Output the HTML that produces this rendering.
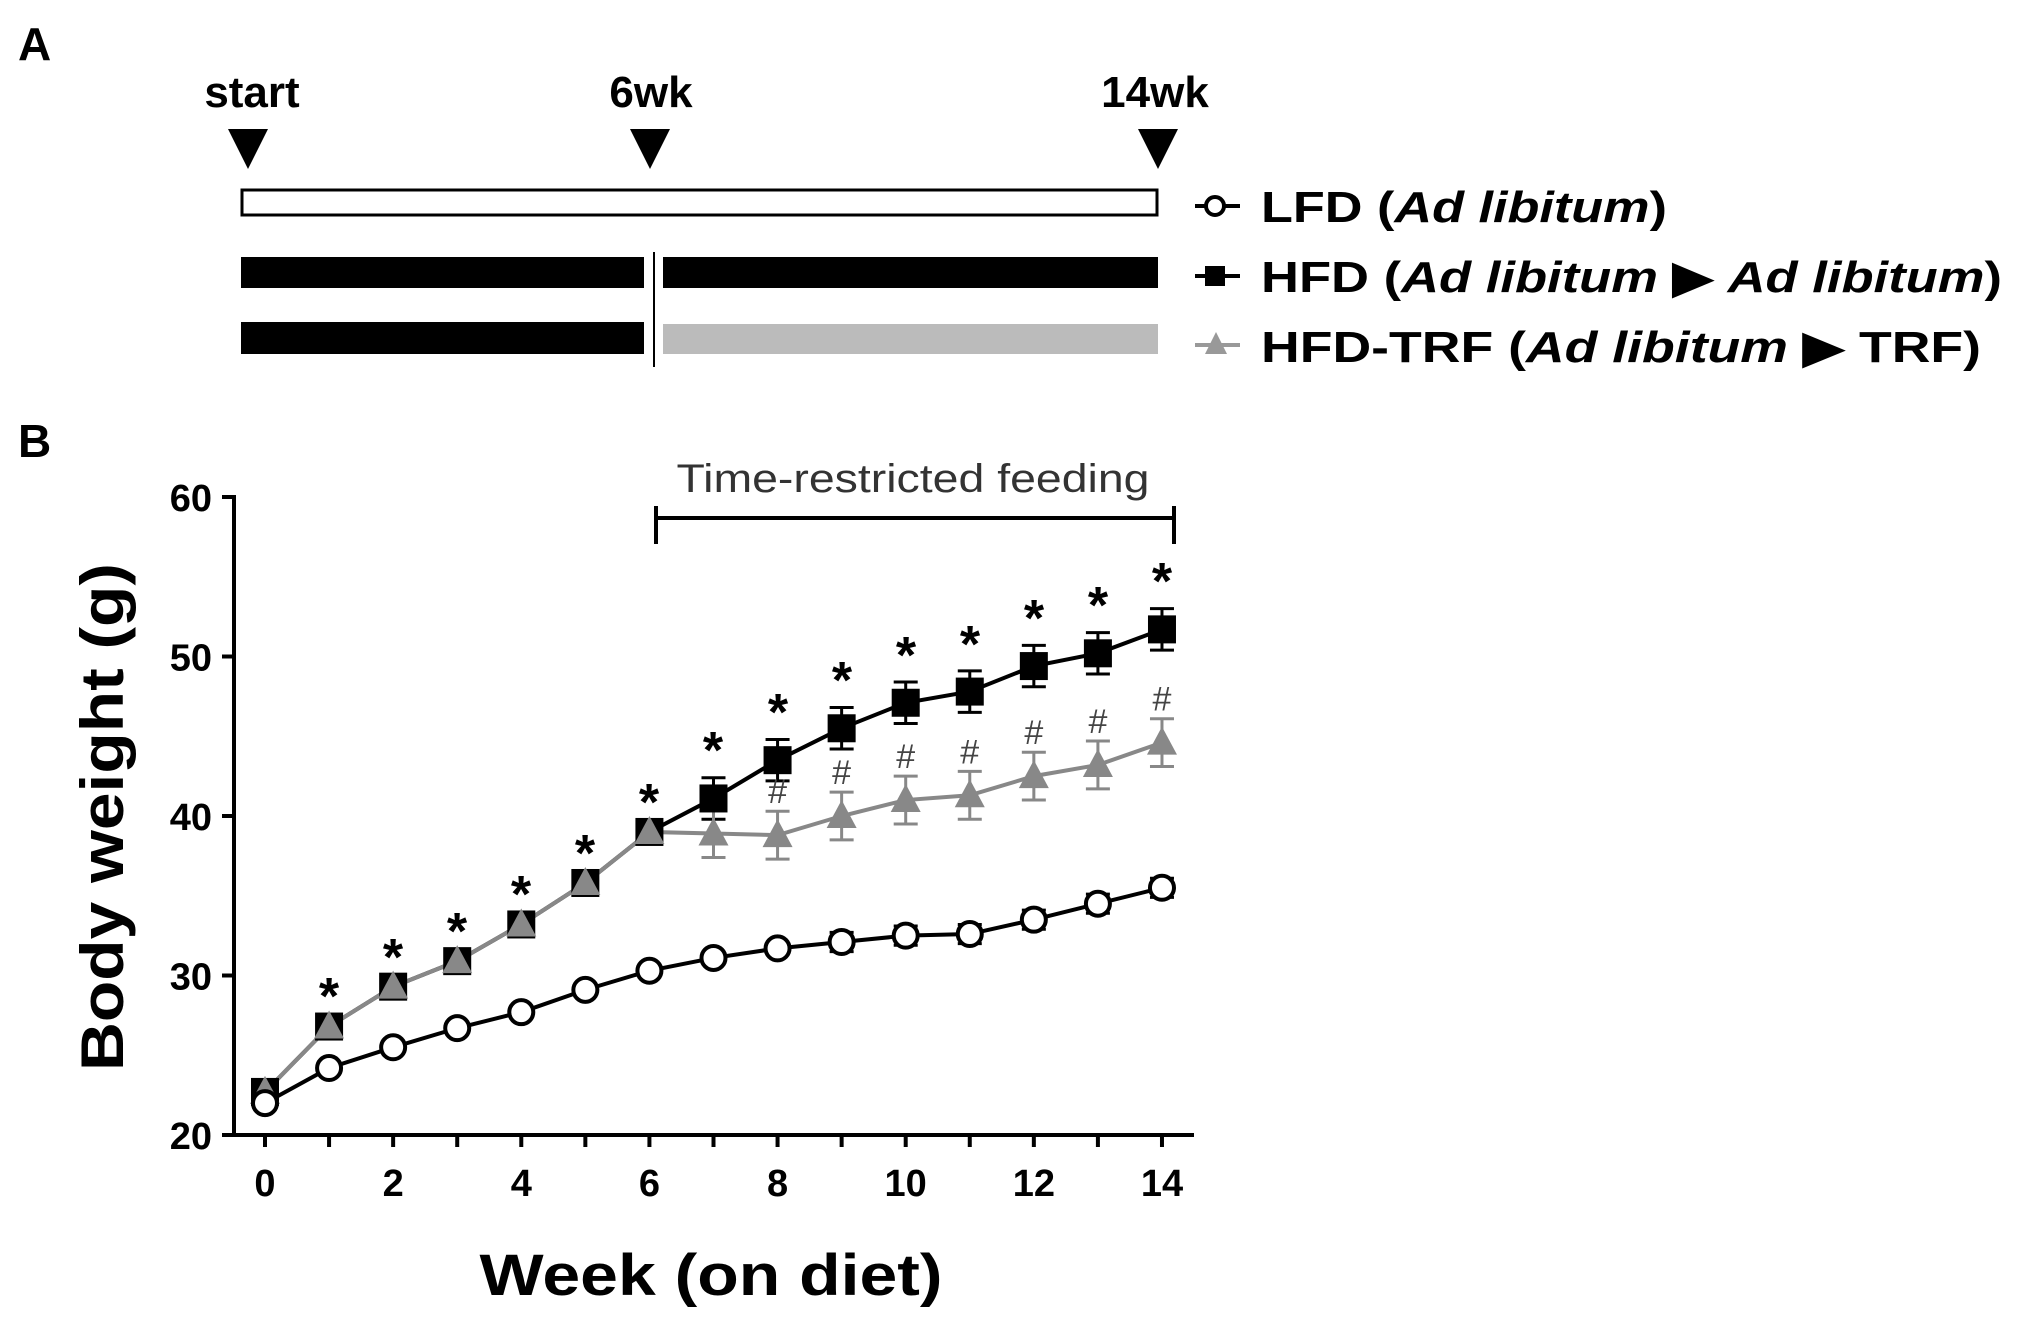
<!DOCTYPE html>
<html><head><meta charset="utf-8"><style>
html,body{margin:0;padding:0;background:#fff;}
svg{display:block;font-family:"Liberation Sans",sans-serif;}
</style></head><body>
<svg id="s" width="2017" height="1326" viewBox="0 0 2017 1326" xmlns="http://www.w3.org/2000/svg">
<rect width="2017" height="1326" fill="#fff"/>
<text x="18" y="60" font-size="46" font-weight="bold">A</text>
<g font-size="44" font-weight="bold" text-anchor="middle">
<text x="252" y="107">start</text><text x="651" y="107">6wk</text><text x="1155" y="107">14wk</text>
</g>
<polygon points="228,129 268,129 248,169" fill="#000"/>
<polygon points="630,129 670,129 650,169" fill="#000"/>
<polygon points="1138,129 1178,129 1158,169" fill="#000"/>
<rect x="242" y="190" width="915" height="25" fill="#fff" stroke="#000" stroke-width="3"/>
<rect x="241" y="257" width="403" height="31" fill="#000"/>
<rect x="663" y="257" width="495" height="31" fill="#000"/>
<rect x="241" y="322" width="403" height="32" fill="#000"/>
<rect x="663" y="324" width="495" height="30" fill="#bbb"/>
<line x1="654" y1="252" x2="654" y2="367" stroke="#000" stroke-width="2"/>
<line x1="1195" y1="206" x2="1240" y2="206" stroke="#000" stroke-width="4"/>
<circle cx="1215" cy="206" r="9" fill="#fff" stroke="#000" stroke-width="4"/>
<line x1="1195" y1="276" x2="1240" y2="276" stroke="#000" stroke-width="4"/>
<rect x="1205" y="266" width="20" height="20" fill="#000"/>
<line x1="1195" y1="345" x2="1240" y2="345" stroke="#999" stroke-width="4"/>
<polygon points="1216,332 1227,354 1205,354" fill="#999"/>
<g font-size="44" font-weight="bold">
<text x="1261" y="222" textLength="406" lengthAdjust="spacingAndGlyphs">LFD (<tspan font-style="italic">Ad libitum</tspan>)</text>
<text x="1261" y="292" textLength="741" lengthAdjust="spacingAndGlyphs">HFD (<tspan font-style="italic">Ad libitum</tspan> ▶ <tspan font-style="italic">Ad libitum</tspan>)</text>
<text x="1261" y="362" textLength="720" lengthAdjust="spacingAndGlyphs">HFD-TRF (<tspan font-style="italic">Ad libitum</tspan> ▶ TRF)</text>
</g>
<text x="18" y="457" font-size="46" font-weight="bold">B</text>
<text x="913" y="492" font-size="40" fill="#333" text-anchor="middle" textLength="473" lengthAdjust="spacingAndGlyphs">Time-restricted feeding</text>
<g stroke="#000" stroke-width="4" fill="none">
<line x1="656" y1="518" x2="1174" y2="518"/><line x1="656" y1="506" x2="656" y2="544"/><line x1="1174" y1="506" x2="1174" y2="544"/>
<line x1="234" y1="495" x2="234" y2="1135"/><line x1="222" y1="1135" x2="1194" y2="1135"/>
</g>
<g id="ax"></g><g id="dat"></g>
<g font-size="52" font-weight="bold" fill="#000" text-anchor="middle">
<text x="329" y="1014">*</text><text x="393" y="975">*</text><text x="457" y="949">*</text><text x="521" y="912">*</text><text x="585" y="871">*</text><text x="649" y="820">*</text><text x="713" y="768">*</text><text x="778" y="730">*</text><text x="842" y="698">*</text><text x="906" y="673">*</text><text x="970" y="662">*</text><text x="1034" y="636">*</text><text x="1098" y="623">*</text><text x="1162" y="599">*</text>
</g>
<text transform="translate(123,817) rotate(-90)" font-size="60" font-weight="bold" text-anchor="middle" textLength="508" lengthAdjust="spacingAndGlyphs">Body weight (g)</text>
<text x="711" y="1295" font-size="58" font-weight="bold" text-anchor="middle" textLength="463" lengthAdjust="spacingAndGlyphs">Week (on diet)</text>
</svg>
<script>
var NS="http://www.w3.org/2000/svg";
function X(w){return 265+w*64.07;}function Y(g){return 1135-(g-20)*15.95;}
function el(p,t,a,txt){var e=document.createElementNS(NS,t);for(var k in a)e.setAttribute(k,a[k]);if(txt!=null)e.textContent=txt;document.getElementById(p).appendChild(e);return e;}
for(var v=20;v<=60;v+=10){el("ax","line",{x1:222,y1:Y(v),x2:234,y2:Y(v),stroke:"#000","stroke-width":4});el("ax","text",{x:212,y:Y(v)+14,"font-size":38,"font-weight":"bold","text-anchor":"end"},String(v));}
for(var w=0;w<=14;w++){el("ax","line",{x1:X(w),y1:1135,x2:X(w),y2:1147,stroke:"#000","stroke-width":4});if(w%2==0)el("ax","text",{x:X(w),y:1196,"font-size":38,"font-weight":"bold","text-anchor":"middle"},String(w));}
var L=[22,24.2,25.5,26.7,27.7,29.1,30.3,31.1,31.7,32.1,32.5,32.6,33.5,34.5,35.5];
var H=[22.7,26.8,29.3,30.9,33.2,35.8,39,41.1,43.5,45.5,47.1,47.8,49.4,50.2,51.7];
var T=[22.7,26.8,29.3,30.9,33.2,35.8,39,38.9,38.8,40,41,41.3,42.5,43.2,44.6];
function line(d,c){var p=d.map(function(v,i){return X(i)+","+Y(v)}).join(" ");el("dat","polyline",{points:p,fill:"none",stroke:c,"stroke-width":4});}
function eb(w,v,e,c){el("dat","line",{x1:X(w),y1:Y(v-e),x2:X(w),y2:Y(v+e),stroke:c,"stroke-width":3});[v-e,v+e].forEach(function(q){el("dat","line",{x1:X(w)-12,y1:Y(q),x2:X(w)+12,y2:Y(q),stroke:c,"stroke-width":3});});}
line(L,"#000");line(H,"#000");line(T,"#888");
for(var i=0;i<15;i++){
 if(i>=7){eb(i,H[i],1.3,"#000");eb(i,T[i],1.5,"#888");}
 else if(i>0){eb(i,H[i],0.6,"#555");}
 el("dat","rect",{x:X(i)-14,y:Y(H[i])-14,width:28,height:28,fill:"#000"});
}
for(var i=0;i<15;i++){el("dat","polygon",{points:(X(i))+","+(Y(T[i])-16)+" "+(X(i)+15)+","+(Y(T[i])+12)+" "+(X(i)-15)+","+(Y(T[i])+12),fill:"#888"});}
for(var i=0;i<15;i++){if(i>=9)eb(i,L[i],0.6,"#000");el("dat","circle",{cx:X(i),cy:Y(L[i]),r:12,fill:"#fff",stroke:"#000","stroke-width":4});}
for(var i=8;i<15;i++){var tt=T[i]+1.5;el("dat","text",{x:X(i),y:Y(tt)-8,"font-size":34,fill:"#444","text-anchor":"middle"},"#");}
</script>
</body></html>
